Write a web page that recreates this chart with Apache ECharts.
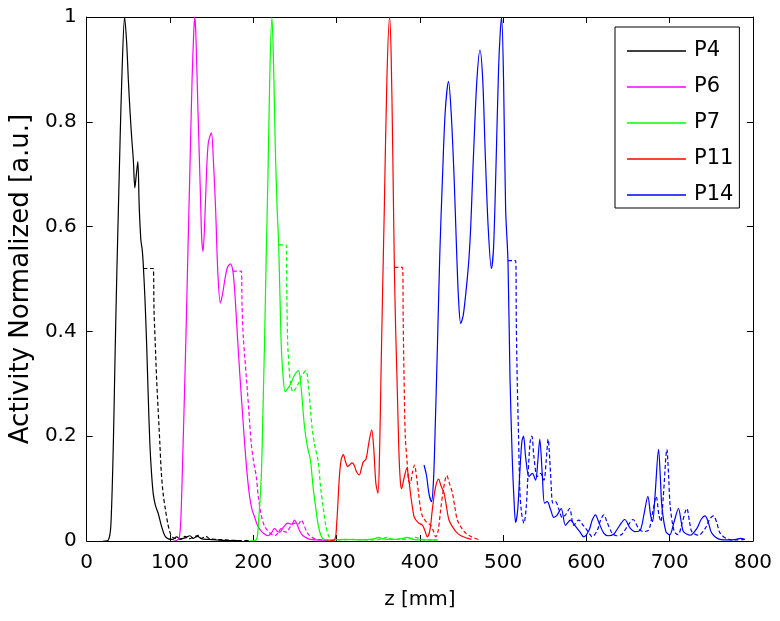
<!DOCTYPE html>
<html>
<head>
<meta charset="utf-8">
<script src="https://cdn.jsdelivr.net/npm/echarts/dist/echarts.min.js"></script>
<style>html,body{margin:0;padding:0;background:#fff}#c{width:780px;height:621px}</style>
</head>
<body>
<div id="c"></div>
<script>
// ---- data (z [mm], normalized activity) ----
const seriesNames = ['P4', 'P6', 'P7', 'P11', 'P14'];
const seriesColors = ['#000000', '#ff00ff', '#00ff00', '#ff0000', '#0000ff'];
const xTicks = [0, 100, 200, 300, 400, 500, 600, 700, 800];
const yTicks = [0, 0.2, 0.4, 0.6, 0.8, 1];

const p4Solid = [[20,0],[26,0.002],[29,0.03],[32,0.187],[34,0.35],[36,0.50],[38,0.63],[40,0.76],[42.5,0.9],[45.5,1.0],[48,0.95],[50,0.88],[52,0.82],[54,0.77],[56,0.727],[57.8,0.674],[59.6,0.70],[61.4,0.724],[63,0.64],[65,0.575],[66.7,0.555],[68,0.525],[70,0.46],[71.9,0.378],[73.8,0.28],[75.8,0.187],[77.8,0.13],[79.9,0.09],[82.5,0.068],[85.8,0.053],[89.5,0.03],[93.8,0.01],[98,0.004],[103,0.003],[108,0.008],[112,0.004],[118,0.006],[124,0.01],[128,0.005],[133,0.009],[138,0.004],[146,0.003],[156,0.002],[170,0.001],[185,0.001]];
const p4Dashed = [[68.2,0.52],[79.8,0.52],[80.8,0.44],[82.3,0.378],[83.8,0.314],[85.8,0.25],[87.8,0.187],[89.6,0.13],[91.8,0.09],[94.5,0.06],[97.8,0.03],[101,0.012],[104,0.006],[108,0.004],[113,0.003],[118,0.009],[122,0.004],[128,0.007],[134,0.011],[138,0.005],[143,0.009],[148,0.004],[156,0.003],[166,0.002],[180,0.001],[195,0.001]];

const p6Solid = [[104,0],[108,0.001],[111,0.005],[113,0.04],[116,0.2],[119,0.38],[121.5,0.55],[123.7,0.695],[126.5,0.88],[128.5,0.97],[129.7,1.0],[131,0.97],[133.6,0.82],[136.5,0.664],[138,0.58],[139.6,0.552],[141.5,0.6],[143.7,0.695],[146,0.76],[149.7,0.779],[152,0.73],[154.8,0.632],[157.5,0.51],[160.5,0.454],[163,0.47],[166,0.5],[169,0.522],[172.5,0.529],[175.5,0.515],[178,0.47],[181,0.39],[184,0.314],[186.8,0.25],[189.6,0.187],[192.5,0.13],[195.6,0.085],[198.5,0.06],[201.6,0.046],[205,0.03],[209,0.02],[213,0.014],[218,0.01],[222,0.016],[225.5,0.024],[229,0.018],[232,0.017],[236,0.026],[241.5,0.034],[246,0.032],[249.5,0.04],[252.5,0.032],[255.5,0.02],[258.5,0.012],[261.5,0.008],[268,0.003],[278,0.002],[288,0.001]];
const p6Dashed = [[175.5,0.515],[185.6,0.515],[186.5,0.45],[188,0.39],[191.6,0.314],[194.6,0.25],[197.5,0.187],[200.5,0.15],[203.6,0.123],[206,0.085],[209.5,0.05],[213,0.03],[217,0.02],[221,0.014],[226,0.01],[230,0.016],[233.5,0.024],[237,0.018],[240,0.017],[244,0.026],[249.5,0.034],[254,0.032],[257.5,0.04],[260.5,0.032],[263.5,0.02],[266.5,0.012],[269.5,0.008],[276,0.003],[286,0.002],[296,0.001]];

const p7Solid = [[196,0],[203.6,0.002],[206,0.03],[209.6,0.123],[211.5,0.24],[213.5,0.378],[215.5,0.54],[217.6,0.695],[220,0.9],[222.4,1.0],[224.5,0.9],[226.3,0.76],[228.5,0.64],[230.3,0.574],[232,0.47],[233.5,0.378],[235.5,0.32],[238.3,0.285],[241,0.29],[245,0.30],[249,0.315],[254.2,0.325],[257,0.30],[261.5,0.218],[265,0.18],[268.6,0.155],[272,0.1],[275.4,0.059],[278,0.03],[281.4,0.01],[285,0.003],[295,0.002],[310,0.003],[330,0.002],[345,0.004],[350,0.007],[355,0.004],[372,0.003],[380,0.005],[385,0.007],[392,0.003],[405,0.002],[420,0.002]];
const p7Dashed = [[230.8,0.565],[239.5,0.565],[240.3,0.47],[241.3,0.38],[243,0.33],[245,0.30],[247.5,0.285],[250.5,0.29],[254,0.30],[258,0.315],[263.2,0.325],[266,0.3],[270.5,0.218],[274,0.18],[277.6,0.155],[281,0.1],[284.4,0.059],[287,0.03],[290.4,0.01],[294,0.003],[304,0.002],[320,0.003],[340,0.002],[355,0.004],[360,0.007],[365,0.004],[380,0.003],[390,0.005],[395,0.007],[402,0.003],[415,0.002],[425,0.002]];

const p11Solid = [[288,0],[297.4,0.002],[300,0.03],[303.4,0.123],[305.5,0.155],[308.2,0.165],[311,0.15],[313.4,0.142],[316,0.146],[318.6,0.149],[321,0.145],[324,0.132],[327.3,0.126],[330,0.14],[332.1,0.151],[335.3,0.156],[338.5,0.185],[342.2,0.212],[344.5,0.18],[347.2,0.11],[349.7,0.091],[351.5,0.16],[353.3,0.314],[355.3,0.48],[357.3,0.632],[360.5,0.886],[363.7,1.0],[365.5,0.93],[367.3,0.76],[369.4,0.522],[371,0.4],[372.5,0.314],[374,0.22],[375.2,0.155],[376.8,0.11],[378.1,0.1],[381,0.12],[384.4,0.139],[386.5,0.12],[389.2,0.085],[391.5,0.06],[393.2,0.046],[398,0.035],[403.2,0.03],[406,0.02],[409,0.008],[412,0.02],[415,0.06],[418.5,0.1],[422.4,0.118],[425.5,0.105],[429,0.092],[432,0.065],[435,0.04],[440,0.025],[445,0.015],[452,0.008],[462,0.003]];
const p11Dashed = [[369.4,0.522],[379.2,0.522],[380,0.42],[381,0.314],[382.5,0.2],[384.5,0.155],[386.5,0.115],[388.5,0.11],[391,0.13],[393.6,0.145],[395.8,0.125],[398.5,0.09],[401,0.06],[403.5,0.046],[408,0.036],[413,0.03],[416,0.02],[419,0.008],[422,0.02],[425,0.06],[428.5,0.1],[432.3,0.125],[435.5,0.11],[439,0.092],[442,0.065],[445,0.04],[450,0.025],[455,0.015],[462,0.008],[472,0.002]];

const p14Solid = [[405,0.145],[408,0.125],[411,0.09],[414,0.075],[416.5,0.12],[418.5,0.22],[421.2,0.378],[424,0.55],[427.2,0.695],[430.5,0.82],[434.4,0.877],[437.5,0.82],[441.1,0.695],[444,0.56],[446.5,0.46],[449.1,0.415],[452,0.43],[455,0.47],[457.1,0.504],[459,0.54],[461.1,0.6],[463,0.68],[465,0.759],[468.5,0.88],[472.2,0.937],[475.5,0.88],[478.5,0.74],[482,0.6],[485.9,0.52],[488.5,0.56],[491.5,0.72],[494.5,0.9],[496.5,0.97],[498.2,1.0],[500.5,0.88],[503,0.632],[505.8,0.535],[508.2,0.314],[511,0.155],[513,0.08],[515,0.035],[517.5,0.06],[520,0.13],[522.5,0.19],[524.5,0.2],[527,0.16],[531,0.123],[535,0.129],[539,0.116],[541.5,0.15],[544,0.194],[546.9,0.13],[549.7,0.072],[552.9,0.075],[557,0.06],[560.8,0.045],[565,0.05],[569.7,0.062],[574.9,0.03],[580.8,0.04],[586,0.03],[592,0.018],[596.8,0.008],[603,0.02],[607,0.04],[610.8,0.05],[615,0.035],[620.8,0.015],[626,0.01],[632.7,0.013],[640,0.03],[645.9,0.041],[652.7,0.024],[658,0.018],[664.7,0.021],[669,0.05],[673.8,0.085],[677,0.05],[679.4,0.037],[682.3,0.085],[686.6,0.175],[688.8,0.12],[690.6,0.066],[695.4,0.018],[700,0.012],[705,0.035],[710.5,0.062],[714,0.035],[716.5,0.018],[724.6,0.011],[733,0.025],[738,0.042],[742.5,0.048],[746.5,0.035],[750.5,0.015],[760.5,0.003],[770,0.002],[780,0.003],[785,0.005],[790,0.003]];
const p14Dashed = [[505.8,0.535],[515,0.535],[515.8,0.42],[517,0.3],[518.5,0.2],[520,0.1],[522,0.055],[525,0.034],[527.5,0.06],[530,0.13],[532.5,0.19],[534.5,0.2],[537,0.16],[541,0.123],[545,0.129],[549,0.116],[551.5,0.15],[554,0.194],[556.9,0.13],[559.7,0.072],[562.9,0.075],[567,0.06],[570.8,0.045],[575,0.05],[579.7,0.062],[584.9,0.03],[590.8,0.04],[596,0.03],[602,0.018],[606.8,0.008],[613,0.02],[617,0.04],[620.8,0.05],[625,0.035],[630.8,0.015],[636,0.01],[642.7,0.013],[650,0.03],[655.9,0.041],[662.7,0.024],[668,0.018],[674.7,0.021],[679,0.05],[683.8,0.085],[687,0.05],[689.4,0.037],[692.3,0.085],[696.6,0.175],[698.8,0.12],[700.6,0.066],[705.4,0.018],[710,0.012],[715,0.035],[720.5,0.062],[724,0.035],[726.5,0.018],[734.6,0.011],[743,0.025],[748,0.042],[752.5,0.048],[756.5,0.035],[760.5,0.015],[770.5,0.003],[780,0.002],[790,0.003]];

const solidData = [p4Solid, p6Solid, p7Solid, p11Solid, p14Solid];
const dashedData = [p4Dashed, p6Dashed, p7Dashed, p11Dashed, p14Dashed];

// ---- chart ----
const FONT = 'DejaVu Sans';
const chart = echarts.init(document.getElementById('c'), null, { renderer: 'canvas' });

const series = [];
seriesNames.forEach((name, i) => {
  const color = seriesColors[i];
  series.push({
    name, type: 'line', data: solidData[i], symbol: 'none', showSymbol: false,
    smooth: 0.3, clip: true, animation: false,
    lineStyle: { color, width: 1.2 }, itemStyle: { color }
  });
  series.push({
    name: name + ' dashed', type: 'line', data: dashedData[i], symbol: 'none', showSymbol: false,
    smooth: 0.3, clip: true, animation: false,
    lineStyle: { color, width: 1.2, type: [4, 2.5] }, itemStyle: { color }
  });
});

const axisLineStyle = { show: true, onZero: false, lineStyle: { color: '#000', width: 1 } };
const tickStyle = { show: true, inside: true, length: 6, lineStyle: { color: '#000', width: 1 } };
const labelFont = { color: '#000', fontFamily: FONT, fontSize: 20 };

chart.setOption({
  backgroundColor: '#fff',
  animation: false,
  grid: { left: 85, right: 27, top: 17, bottom: 80, containLabel: false },
  legend: {
    data: seriesNames, orient: 'vertical', left: 615, top: 27,
    icon: 'rect', itemWidth: 59, itemHeight: 1.3, itemGap: 12,
    padding: [12, 6, 1, 12],
    backgroundColor: '#fff', borderColor: '#000', borderWidth: 1, borderRadius: 0,
    textStyle: { color: '#000', fontFamily: FONT, fontSize: 21, padding: [0, 0, 0, 3], lineHeight: 24 }
  },
  xAxis: [
    {
      type: 'value', min: xTicks[0], max: xTicks[xTicks.length - 1], interval: xTicks[1] - xTicks[0],
      position: 'bottom', axisLine: axisLineStyle, axisTick: tickStyle, splitLine: { show: false },
      axisLabel: Object.assign({ margin: 12 }, labelFont),
      name: 'z [mm]', nameLocation: 'middle', nameGap: 49,
      nameTextStyle: { color: '#000', fontFamily: FONT, fontSize: 20 }
    },
    {
      type: 'value', min: xTicks[0], max: xTicks[xTicks.length - 1], interval: xTicks[1] - xTicks[0],
      position: 'top', axisLine: axisLineStyle, axisTick: tickStyle, splitLine: { show: false },
      axisLabel: { show: false }
    }
  ],
  yAxis: [
    {
      type: 'value', min: yTicks[0], max: yTicks[yTicks.length - 1], interval: yTicks[1] - yTicks[0],
      position: 'left', axisLine: axisLineStyle, axisTick: tickStyle, splitLine: { show: false },
      axisLabel: Object.assign({ margin: 10, formatter: v => String(+v.toFixed(1)) }, labelFont),
      name: 'Activity Normalized [a.u.]', nameLocation: 'middle', nameGap: 41, nameRotate: 90,
      nameTextStyle: { color: '#000', fontFamily: FONT, fontSize: 26 }
    },
    {
      type: 'value', min: yTicks[0], max: yTicks[yTicks.length - 1], interval: yTicks[1] - yTicks[0],
      position: 'right', axisLine: axisLineStyle, axisTick: tickStyle, splitLine: { show: false },
      axisLabel: { show: false }
    }
  ],
  series
});
</script>
</body>
</html>
